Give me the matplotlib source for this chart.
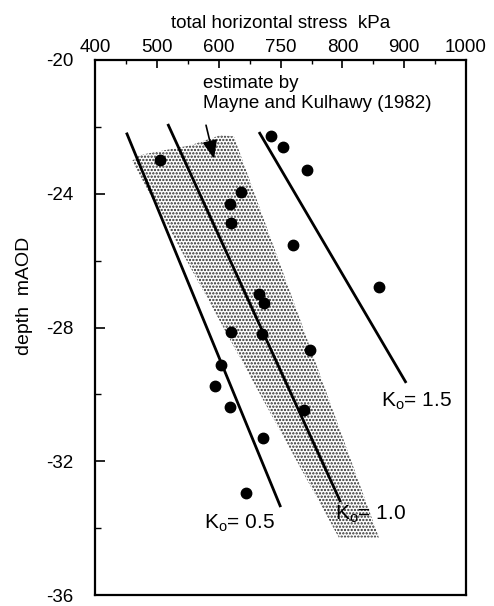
import matplotlib
matplotlib.use("Agg")
import matplotlib.pyplot as plt
from matplotlib.patches import Polygon
from matplotlib.ticker import MultipleLocator, FixedLocator

plt.rcParams['font.family'] = ['Liberation Sans', 'DejaVu Sans']
plt.rcParams['mathtext.fontset'] = 'custom'
plt.rcParams['mathtext.rm'] = 'Liberation Sans'
plt.rcParams['mathtext.it'] = 'Liberation Sans'
plt.rcParams['hatch.linewidth'] = 1.1
plt.rcParams['axes.unicode_minus'] = False

# measured data: total horizontal stress (kPa) vs depth (mAOD)
stress = [505, 685, 704, 743, 635, 618, 620, 720, 859, 664, 673, 620, 669, 747,
          603, 594, 618, 737, 671, 644]
depth = [-23.0, -22.26, -22.59, -23.3, -23.95, -24.32, -24.88, -25.53, -26.79,
         -27.01, -27.26, -28.14, -28.19, -28.66, -29.11, -29.75, -30.37, -30.46,
         -31.3, -32.96]

# K0 lines (end points)
k05_x = [451, 699]
k05_y = [-22.21, -33.33]
k10_x = [518, 796]
k10_y = [-21.95, -33.18]
k15_x = [666, 902]
k15_y = [-22.19, -29.62]

# Mayne & Kulhawy (1982) estimate band
band_x = [459, 472, 554, 602, 624, 859, 794]
band_y = [-23.02, -22.84, -22.55, -22.25, -22.28, -34.28, -34.28]

xticks = [400, 500, 600, 700, 800, 900, 1000]
xticklabels = ['400', '500', '600', '750', '800', '900', '1000']
yticks = [-36, -32, -28, -24, -20]

fig = plt.figure(figsize=(4.94, 6.06), dpi=100)
ax = fig.add_axes([0.1933, 0.018, 0.750, 0.883])

band = Polygon(list(zip(band_x, band_y)), closed=True, facecolor='white',
               edgecolor='#2a2a2a', hatch='.....', linewidth=0, zorder=1)
ax.add_patch(band)

for xs, ys in [(k05_x, k05_y), (k10_x, k10_y), (k15_x, k15_y)]:
    ax.plot(xs, ys, color='black', linewidth=2.0, zorder=2)

ax.plot(stress, depth, 'o', color='black', markersize=7.5, zorder=3)

ax.set_xlim(400, 1000)
ax.set_ylim(-36, -20)

ax.xaxis.tick_top()
ax.xaxis.set_label_position('top')
ax.xaxis.set_major_locator(FixedLocator(xticks))
ax.set_xticklabels(xticklabels)
ax.xaxis.set_minor_locator(MultipleLocator(50))
ax.yaxis.set_major_locator(FixedLocator(yticks))
ax.yaxis.set_minor_locator(MultipleLocator(2))

ax.tick_params(axis='x', which='major', direction='in', length=6, width=1.2,
               labelsize=13.5, pad=3, top=True, bottom=False)
ax.tick_params(axis='x', which='minor', direction='in', length=3, width=1.0,
               top=True, bottom=False)
ax.tick_params(axis='y', which='major', direction='in', length=7, width=1.2,
               labelsize=13.5, pad=16, right=False)
ax.tick_params(axis='y', which='minor', direction='in', length=4, width=1.0,
               right=False)

for s in ax.spines.values():
    s.set_linewidth(1.6)

ax.set_xlabel('total horizontal stress  kPa', fontsize=13.5, labelpad=8)
ax.set_ylabel('depth  mAOD', fontsize=14)
ax.yaxis.set_label_coords(-0.17, 0.56)

ax.text(574, -20.7, 'estimate by', fontsize=13.5, ha='left', va='center')
ax.text(574, -21.3, 'Mayne and Kulhawy (1982)', fontsize=13.5, ha='left', va='center')
ax.annotate('', xy=(592, -22.95), xytext=(579, -21.95),
            arrowprops=dict(arrowstyle='-|>,head_length=1.1,head_width=0.45',
                            color='black', lw=1.2, shrinkA=0, shrinkB=0), zorder=4)

ax.text(575, -33.85, 'K$_{\\mathrm{o}}$= 0.5', fontsize=15, ha='left', va='center')
ax.text(788, -33.6, 'K$_{\\mathrm{o}}$= 1.0', fontsize=15, ha='left', va='center')
ax.text(862, -30.2, 'K$_{\\mathrm{o}}$= 1.5', fontsize=15, ha='left', va='center')

fig.savefig('out.png', dpi=100)
